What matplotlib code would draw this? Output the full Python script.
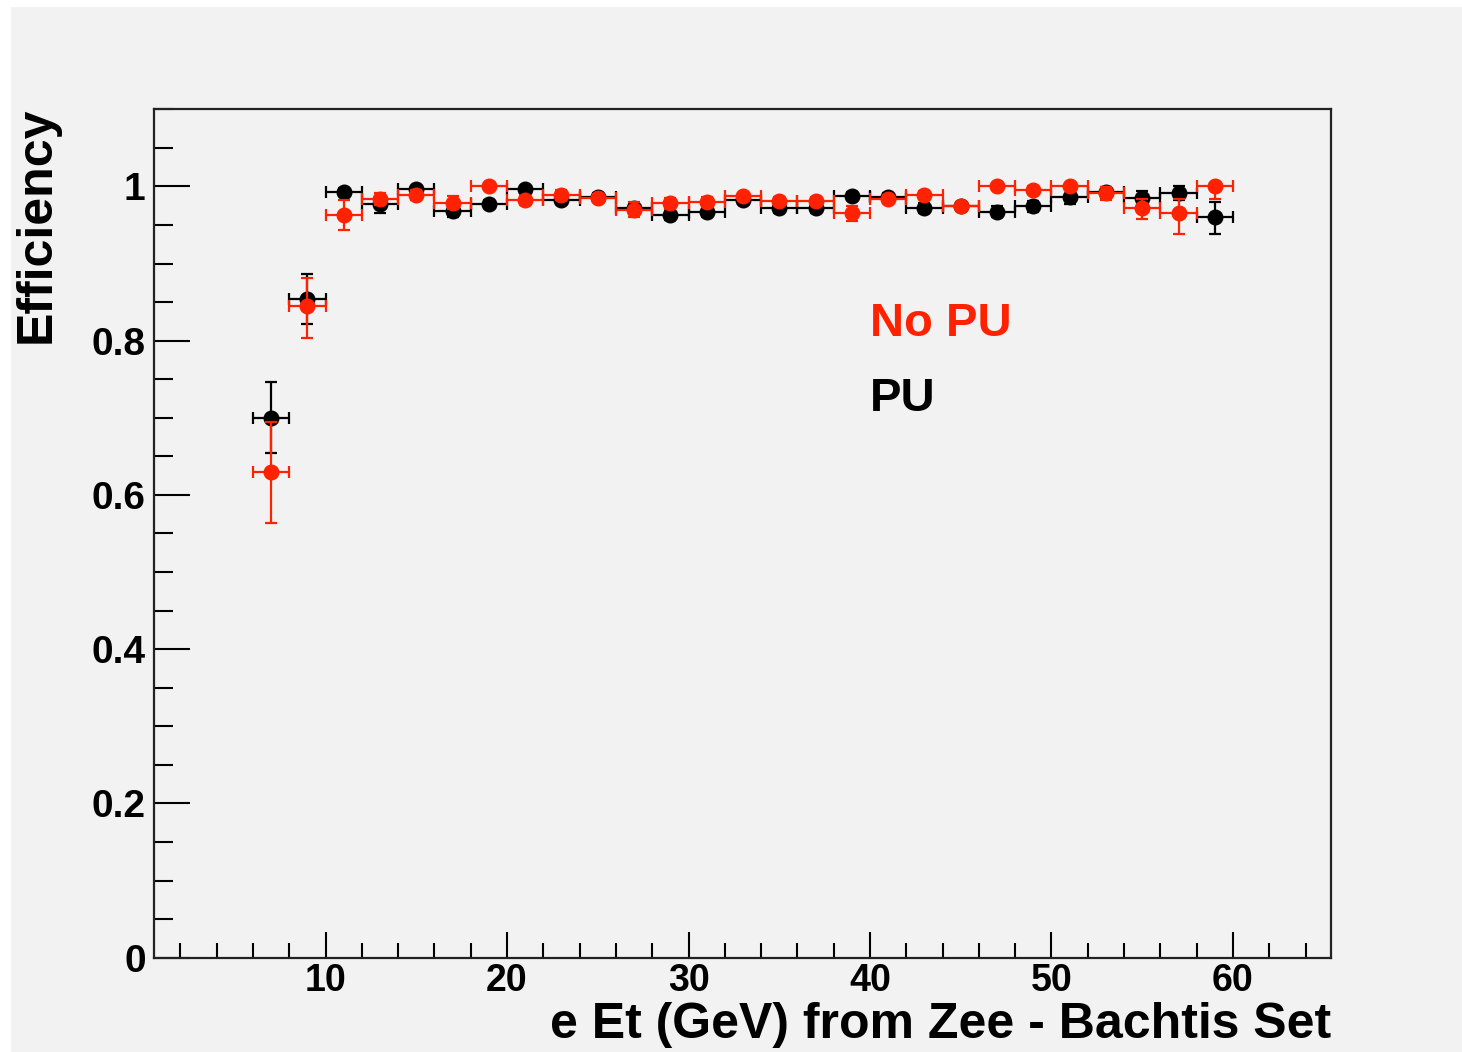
import matplotlib
matplotlib.use("Agg")
import matplotlib.pyplot as plt
from matplotlib.ticker import MultipleLocator
from matplotlib.patches import Rectangle

# ---- data ----
et = [7, 9, 11, 13, 15, 17, 19, 21, 23, 25, 27, 29, 31, 33, 35, 37, 39, 41, 43, 45, 47, 49, 51, 53, 55, 57, 59]
et_err = [1] * len(et)

eff_pu = [0.700, 0.854, 0.993, 0.977, 0.997, 0.968, 0.977, 0.997, 0.982, 0.986, 0.972, 0.963, 0.967, 0.983,
          0.972, 0.972, 0.988, 0.986, 0.972, 0.974, 0.967, 0.974, 0.986, 0.993, 0.985, 0.992, 0.960]
err_pu_lo = [0.046, 0.033, 0.005, 0.011, 0.004, 0.008, 0.005, 0.004, 0.005, 0.005, 0.007, 0.007, 0.007, 0.005,
             0.006, 0.006, 0.005, 0.005, 0.006, 0.006, 0.007, 0.007, 0.009, 0.008, 0.009, 0.010, 0.022]
err_pu_hi = [0.046, 0.033, 0.005, 0.011, 0.003, 0.008, 0.005, 0.003, 0.005, 0.005, 0.007, 0.007, 0.007, 0.005,
             0.006, 0.006, 0.005, 0.005, 0.006, 0.006, 0.007, 0.007, 0.009, 0.006, 0.009, 0.008, 0.020]

eff_nopu = [0.630, 0.845, 0.963, 0.984, 0.989, 0.979, 1.000, 0.982, 0.989, 0.985, 0.970, 0.978, 0.980, 0.987,
            0.981, 0.981, 0.965, 0.984, 0.989, 0.974, 1.000, 0.996, 1.000, 0.991, 0.972, 0.966, 1.000]
err_nopu_lo = [0.066, 0.041, 0.019, 0.008, 0.006, 0.008, 0.003, 0.006, 0.006, 0.005, 0.010, 0.007, 0.006, 0.005,
               0.005, 0.005, 0.010, 0.005, 0.005, 0.005, 0.003, 0.004, 0.003, 0.008, 0.014, 0.028, 0.016]
err_nopu_hi = [0.065, 0.036, 0.019, 0.008, 0.006, 0.008, 0.000, 0.006, 0.006, 0.005, 0.010, 0.007, 0.006, 0.005,
               0.005, 0.005, 0.010, 0.005, 0.005, 0.005, 0.000, 0.004, 0.000, 0.008, 0.012, 0.018, 0.000]

xlabel = "e Et (GeV) from Zee - Bachtis Set"
ylabel = "Efficiency"
label_nopu = "No PU"
label_pu = "PU"

# ---- style ----
plt.rcParams['font.family'] = ['Liberation Sans', 'DejaVu Sans']
plt.rcParams['font.weight'] = 'bold'
bg = '#f2f2f2'
red = '#ff2200'

W, H = 1462, 1052
fig = plt.figure(figsize=(W / 100, H / 100), dpi=100, facecolor='white')
fig.patches.append(Rectangle((11 / W, 0), 1 - 11 / W, 1 - 7 / H, transform=fig.transFigure,
                             facecolor=bg, edgecolor='none', zorder=-10))

ax = fig.add_axes([154 / W, 94.3 / H, (1331 - 154) / W, (957.7 - 109.3) / H])
ax.set_facecolor(bg)

ax.errorbar(et, eff_pu, xerr=et_err, yerr=[err_pu_lo, err_pu_hi], fmt='o', color='black',
            markersize=10.5, elinewidth=1.6, capsize=4, capthick=1.6, zorder=3)
ax.errorbar(et, eff_nopu, xerr=et_err, yerr=[err_nopu_lo, err_nopu_hi], fmt='o', color=red,
            markersize=10.5, elinewidth=1.6, capsize=4, capthick=1.6, zorder=4)

ax.set_xlim(0.55, 65.4)
ax.set_ylim(0, 1.1)
ax.xaxis.set_major_locator(MultipleLocator(10))
ax.xaxis.set_minor_locator(MultipleLocator(2))
ax.yaxis.set_major_locator(MultipleLocator(0.2))
ax.yaxis.set_minor_locator(MultipleLocator(0.05))
ax.yaxis.set_major_formatter(matplotlib.ticker.FuncFormatter(lambda v, p: f"{v:g}"))

ax.tick_params(axis='x', which='major', direction='in', length=19, width=1.5, labelsize=27, pad=4,
               top=False)
ax.tick_params(axis='x', which='minor', direction='in', length=11, width=1.5, top=False)
ax.tick_params(axis='y', which='major', direction='in', length=26, width=1.5, labelsize=28, pad=6,
               right=False)
ax.tick_params(axis='y', which='minor', direction='in', length=14, width=1.5, right=False)
for lab in ax.get_xticklabels() + ax.get_yticklabels():
    lab.set_fontweight('bold')
for s in ax.spines.values():
    s.set_linewidth(1.6)
    s.set_color('#222222')

ax.text(40.0, 0.822, label_nopu, color=red, fontsize=34, fontweight='bold', ha='left', va='center')
ax.text(40.0, 0.724, label_pu, color='black', fontsize=34, fontweight='bold', ha='left', va='center')

fig.text(1331 / W, 1 - 1038 / H, xlabel, ha='right', va='baseline', fontsize=36, fontweight='bold')
fig.text(37 / W, 1 - 107 / H, ylabel, ha='center', va='top', rotation=90, fontsize=36, fontweight='bold')

fig.savefig('out.png', dpi=100, facecolor=fig.get_facecolor())
